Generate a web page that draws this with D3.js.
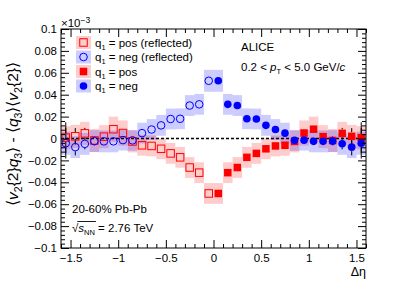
<!DOCTYPE html>
<html>
<head>
<meta charset="utf-8">
<script src="https://d3js.org/d3.v7.min.js"></script>
<style>
  body { margin: 0; background: #fff; }
  text { font-family: "Liberation Sans", Arial, sans-serif; fill: #000; }
</style>
</head>
<body>
<svg id="chart" width="407" height="292"></svg>
<script>
// measured bins (delta eta > 0); the reflected points are the same bins mirrored to -delta eta
const etaBins = [0.05, 0.15, 0.25, 0.35, 0.45, 0.55, 0.65, 0.75, 0.85, 0.95, 1.05, 1.15, 1.25, 1.35, 1.45, 1.55];
const posVals = [-0.0502, -0.0312, -0.0265, -0.0172, -0.0136, -0.0094, -0.0068, -0.0062, -0.0027, 0.0050, 0.0085, 0.0017, -0.0018, 0.0047, 0.0020, 0.0008];
const negVals = [0.0527, 0.0312, 0.0301, 0.0180, 0.0178, 0.0120, 0.0082, 0.0049, -0.0017, -0.0015, -0.0026, -0.0026, -0.0024, -0.0049, -0.0079, -0.0043];
const statErr = [0.0015, 0.0016, 0.0017, 0.0018, 0.0019, 0.0021, 0.0023, 0.0025, 0.0027, 0.0030, 0.0033, 0.0036, 0.0040, 0.0050, 0.0075, 0.0140];
const sysPos = [0.0095, 0.0095, 0.0095, 0.0095, 0.0095, 0.0095, 0.0095, 0.0095, 0.0100, 0.0115, 0.0115, 0.0105, 0.0105, 0.0105, 0.0105, 0.0105];
const sysNeg = [0.0100, 0.0095, 0.0095, 0.0095, 0.0095, 0.0095, 0.0095, 0.0095, 0.0095, 0.0095, 0.0100, 0.0100, 0.0100, 0.0100, 0.0100, 0.0105];
const binWidth = 0.1;

const xMajor = [-1.5, -1, -0.5, 0, 0.5, 1, 1.5];
const yMajor = [-0.1, -0.08, -0.06, -0.04, -0.02, 0, 0.02, 0.04, 0.06, 0.08, 0.1];

const svg = d3.select("#chart");
const fL = 61, fR = 366, fT = 29, fB = 248;
const x = d3.scaleLinear().domain([-1.6, 1.6]).range([fL, fR]);
const y = d3.scaleLinear().domain([-0.1, 0.1]).range([fB, fT]);

const red = "#ff0000", blue = "#0000ff";

function series(vals, sys, sign) {
  return etaBins.map((e, i) => ({ eta: sign * e, v: vals[i], s: sys[i], err: statErr[i] }));
}
const posRefl = series(posVals, sysPos, -1);
const negRefl = series(negVals, sysNeg, -1);
const posDir = series(posVals, sysPos, 1);
const negDir = series(negVals, sysNeg, 1);

const plot = svg.append("g");

// systematic boxes
function boxes(data, col) {
  plot.append("g").selectAll("rect").data(data).join("rect")
    .attr("x", d => x(d.eta - binWidth / 2))
    .attr("width", d => x(d.eta + binWidth / 2) - x(d.eta - binWidth / 2))
    .attr("y", d => y(d.v + d.s))
    .attr("height", d => y(d.v - d.s) - y(d.v + d.s))
    .attr("fill", col).attr("fill-opacity", 0.2);
}
boxes(posRefl, red);
boxes(posDir, red);
boxes(negRefl, blue);
boxes(negDir, blue);

// zero line
plot.append("line")
  .attr("x1", fL).attr("x2", fR).attr("y1", y(0)).attr("y2", y(0))
  .attr("stroke", "#000").attr("stroke-width", 1.3).attr("stroke-dasharray", "3,2");

// stat error bars, drawn outside the marker only
const sq = 7.5, rad = 3.8, half = 4;
function bars(data) {
  const g = plot.append("g");
  data.forEach(d => {
    const yc = y(d.v), yTop = y(d.v + d.err), yBot = y(d.v - d.err);
    if (yc - yTop > half) {
      g.append("line").attr("x1", x(d.eta)).attr("x2", x(d.eta))
        .attr("y1", yTop).attr("y2", yc - half).attr("stroke", "#000").attr("stroke-width", 1);
      g.append("line").attr("x1", x(d.eta)).attr("x2", x(d.eta))
        .attr("y1", yc + half).attr("y2", yBot).attr("stroke", "#000").attr("stroke-width", 1);
    }
  });
}
[posRefl, negRefl, posDir, negDir].forEach(bars);

// markers
function squares(g, data, filled) {
  g.append("g").selectAll("rect").data(data).join("rect")
    .attr("x", d => x(d.eta) - sq / 2).attr("y", d => y(d.v) - sq / 2)
    .attr("width", sq).attr("height", sq)
    .attr("fill", filled ? red : "none").attr("stroke", red).attr("stroke-width", filled ? 0 : 1);
}
function circles(g, data, filled) {
  g.append("g").selectAll("circle").data(data).join("circle")
    .attr("cx", d => x(d.eta)).attr("cy", d => y(d.v)).attr("r", rad)
    .attr("fill", filled ? blue : "none").attr("stroke", blue).attr("stroke-width", filled ? 0 : 1);
}
squares(plot, posRefl, false);
circles(plot, negRefl, false);
squares(plot, posDir, true);
circles(plot, negDir, true);

// axes, ticks inward on all four sides
const fmt = d => d === 0 ? "0" : String(+d.toFixed(2)).replace("-", "\u2212");
const xMinor = d3.range(-16, 17).map(i => i / 10).filter(v => !xMajor.some(m => Math.abs(m - v) < 1e-9));
const yMinor = d3.range(-25, 26).map(i => i * 0.004).filter(v => !yMajor.some(m => Math.abs(m - v) < 1e-9));

function axisPair(axisFn, scale, pos, major, minor, labels, pad) {
  const gMaj = svg.append("g").attr("transform", pos)
    .call(axisFn(scale).tickValues(major).tickSize(-8).tickPadding(pad)
      .tickFormat(labels ? fmt : ""));
  const gMin = svg.append("g").attr("transform", pos)
    .call(axisFn(scale).tickValues(minor).tickSize(-4).tickFormat(""));
  [gMaj, gMin].forEach(g => {
    g.select(".domain").remove();
    g.selectAll("line").attr("stroke", "#000");
    g.selectAll("text").attr("font-family", "Liberation Sans, Arial, sans-serif").attr("font-size", 11.5);
  });
}
axisPair(d3.axisBottom, x, `translate(0,${fB})`, xMajor, xMinor, true, 6);
axisPair(d3.axisTop, x, `translate(0,${fT})`, xMajor, xMinor, false, 0);
axisPair(d3.axisLeft, y, `translate(${fL},0)`, yMajor, yMinor, true, 4);
axisPair(d3.axisRight, y, `translate(${fR},0)`, yMajor, yMinor, false, 0);

svg.append("rect").attr("x", fL).attr("y", fT).attr("width", fR - fL).attr("height", fB - fT)
  .attr("fill", "none").attr("stroke", "#000").attr("stroke-width", 1);

// exponent
const ex = svg.append("text").attr("x", fL).attr("y", 27).attr("font-size", 11.5);
ex.append("tspan").text("\u00d710");
ex.append("tspan").attr("dy", -4).attr("font-size", 8.5).text("\u22123");

// x title
svg.append("text").attr("x", fR).attr("y", 276).attr("text-anchor", "end").attr("font-size", 12.5).text("\u0394\u03b7");

// y title
const yt = svg.append("text").attr("transform", "translate(18,134) rotate(-90)")
  .attr("text-anchor", "middle").attr("font-size", 15.5);
function part(t, txt, opt = {}) {
  const s = t.append("tspan").text(txt);
  if (opt.it) s.attr("font-style", "italic");
  if (opt.dy) s.attr("dy", opt.dy);
  if (opt.fs) s.attr("font-size", opt.fs);
  return s;
}
part(yt, "\u27e8"); part(yt, "v", { it: 1 }); part(yt, "2", { dy: 3.5, fs: 10.5 });
part(yt, "{2}", { dy: -3.5 }); part(yt, "q", { it: 1 }); part(yt, "3", { dy: 3.5, fs: 10.5 });
part(yt, "\u27e9 - \u27e8", { dy: -3.5 }); part(yt, "q", { it: 1 }); part(yt, "3", { dy: 3.5, fs: 10.5 });
part(yt, "\u27e9\u27e8", { dy: -3.5 }); part(yt, "v", { it: 1 }); part(yt, "2", { dy: 3.5, fs: 10.5 });
part(yt, "{2}\u27e9", { dy: -3.5 });

// legend
const legRows = [
  { y: 42.5, col: red, shape: "sq", filled: false, label: " = pos (reflected)" },
  { y: 57, col: blue, shape: "ci", filled: false, label: " = neg (reflected)" },
  { y: 71.5, col: red, shape: "sq", filled: true, label: " = pos" },
  { y: 86, col: blue, shape: "ci", filled: true, label: " = neg" }
];
const leg = svg.append("g");
legRows.forEach(r => {
  leg.append("rect").attr("x", 76).attr("y", r.y - 6.5).attr("width", 15).attr("height", 13)
    .attr("fill", r.col).attr("fill-opacity", 0.2);
  if (r.shape === "sq") {
    leg.append("rect").attr("x", 83.5 - sq / 2).attr("y", r.y - sq / 2).attr("width", sq).attr("height", sq)
      .attr("fill", r.filled ? r.col : "none").attr("stroke", r.col).attr("stroke-width", r.filled ? 0 : 1);
  } else {
    leg.append("circle").attr("cx", 83.5).attr("cy", r.y).attr("r", rad)
      .attr("fill", r.filled ? r.col : "none").attr("stroke", r.col).attr("stroke-width", r.filled ? 0 : 1);
  }
  const t = leg.append("text").attr("x", 95).attr("y", r.y + 4).attr("font-size", 11.5);
  t.append("tspan").text("q");
  t.append("tspan").attr("dy", 3).attr("font-size", 7.5).text("1");
  t.append("tspan").attr("dy", -3).text(r.label);
});

// labels
svg.append("text").attr("x", 241).attr("y", 51).attr("font-size", 11.5).text("ALICE");
const pt = svg.append("text").attr("x", 241).attr("y", 71).attr("font-size", 11.5);
pt.append("tspan").text("0.2 < ");
pt.append("tspan").attr("font-style", "italic").text("p");
pt.append("tspan").attr("dy", 3).attr("font-size", 7.5).text("T");
pt.append("tspan").attr("dy", -3).text(" < 5.0 GeV/");
pt.append("tspan").attr("font-style", "italic").text("c");

svg.append("text").attr("x", 72).attr("y", 213).attr("font-size", 11.5).text("20-60% Pb-Pb");
const sn = svg.append("text").attr("x", 72).attr("y", 232).attr("font-size", 11.5);
sn.append("tspan").text("\u221a");
sn.append("tspan").attr("font-style", "italic").text("s");
sn.append("tspan").attr("dy", 3).attr("font-size", 7.5).text("NN");
sn.append("tspan").attr("dy", -3).text(" = 2.76 TeV");
// overline of the root sign over s_NN
const rootStart = sn.node().getSubStringLength(0, 1);
const rootEnd = sn.node().getSubStringLength(0, 4);
svg.append("line").attr("x1", 72 + rootStart - 1).attr("x2", 72 + rootEnd + 1)
  .attr("y1", 221.5).attr("y2", 221.5).attr("stroke", "#000").attr("stroke-width", 0.9);
</script>
</body>
</html>
